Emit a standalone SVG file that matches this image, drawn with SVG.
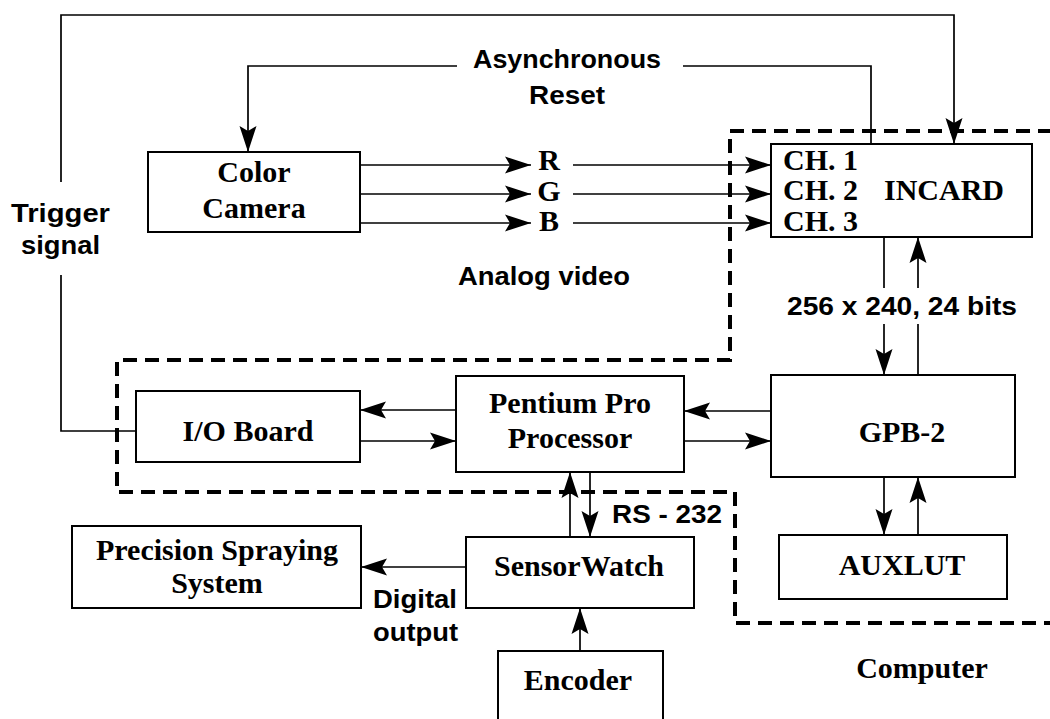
<svg xmlns="http://www.w3.org/2000/svg" width="1050" height="719" viewBox="0 0 1050 719">
  <style>
    .box { fill: #fff; stroke: #000; stroke-width: 2; }
    .wire { fill: none; stroke: #000; stroke-width: 1.7; }
    .arrow { marker-end: url(#ah); }
    .outline { fill: none; stroke: #000; stroke-width: 4; stroke-dasharray: 14 8; }
    .lbl { font-family: "Liberation Serif", "Times New Roman", serif; font-weight: bold; font-size: 30px; fill: #000; }
    .mid { text-anchor: middle; }
    .note { font-family: "Liberation Sans", Arial, Helvetica, sans-serif; font-weight: bold; font-size: 25px; fill: #000; }
  </style>
  <defs>
    <marker id="ah" viewBox="-27 -10 28 20" markerWidth="28" markerHeight="20" refX="0" refY="0" orient="auto" markerUnits="userSpaceOnUse">
      <path d="M0,0 L-26,-8.5 L-21,0 L-26,8.5 Z" fill="#000"/>
    </marker>
  </defs>
  <rect width="1050" height="719" fill="#fff"/>

  <!-- computer enclosure -->
  <path class="outline" d="M1052,131 H730 V360 H117 V492 H735 V623 H1052"/>

  <!-- connectors -->
  <g id="connectors">
    <!-- trigger signal loop -->
    <path class="wire" d="M136,431 H61 V275"/>
    <path class="wire arrow" d="M61,182 V15 H954 V144"/>
    <!-- asynchronous reset -->
    <path class="wire" d="M871,144 V66 H683"/>
    <path class="wire arrow" d="M457,66 H248 V152"/>
    <!-- analog video R G B -->
    <path class="wire arrow" d="M360,165 H531"/>
    <path class="wire arrow" d="M573,165 H771"/>
    <path class="wire arrow" d="M360,194 H531"/>
    <path class="wire arrow" d="M573,194 H771"/>
    <path class="wire arrow" d="M360,223 H531"/>
    <path class="wire arrow" d="M573,223 H771"/>
    <!-- INCARD <-> GPB-2 -->
    <path class="wire" d="M884,237 V288"/>
    <path class="wire arrow" d="M884,324 V375"/>
    <path class="wire" d="M918,375 V324"/>
    <path class="wire arrow" d="M918,288 V237"/>
    <!-- GPB-2 <-> Pentium Pro -->
    <path class="wire arrow" d="M771,411 H684"/>
    <path class="wire arrow" d="M684,441 H771"/>
    <!-- Pentium Pro <-> I/O Board -->
    <path class="wire arrow" d="M456,410 H360"/>
    <path class="wire arrow" d="M360,441 H456"/>
    <!-- Pentium Pro <-> SensorWatch (RS-232) -->
    <path class="wire arrow" d="M570,537 V472"/>
    <path class="wire arrow" d="M590,472 V537"/>
    <!-- SensorWatch -> spraying system -->
    <path class="wire arrow" d="M466,567 H361"/>
    <!-- Encoder -> SensorWatch -->
    <path class="wire arrow" d="M580,651 V608"/>
    <!-- GPB-2 <-> AUXLUT -->
    <path class="wire arrow" d="M884,477 V535"/>
    <path class="wire arrow" d="M918,535 V477"/>
  </g>

  <!-- nodes -->
  <g id="camera">
    <rect class="box" x="148" y="152" width="212" height="80"/>
    <text class="lbl mid" x="254" y="182">Color</text>
    <text class="lbl mid" x="254" y="218">Camera</text>
  </g>
  <g id="incard">
    <rect class="box" x="771" y="144" width="261" height="93"/>
    <text class="lbl" x="783" y="170">CH. 1</text>
    <text class="lbl" x="783" y="200">CH. 2</text>
    <text class="lbl" x="783" y="231">CH. 3</text>
    <text class="lbl" x="884" y="200">INCARD</text>
  </g>
  <g id="io-board">
    <rect class="box" x="136" y="391" width="224" height="71"/>
    <text class="lbl mid" x="248" y="441">I/O Board</text>
  </g>
  <g id="pentium">
    <rect class="box" x="456" y="376" width="228" height="96"/>
    <text class="lbl mid" x="570" y="413">Pentium Pro</text>
    <text class="lbl mid" x="570" y="448">Processor</text>
  </g>
  <g id="gpb2">
    <rect class="box" x="771" y="375" width="244" height="102"/>
    <text class="lbl mid" x="902" y="442">GPB-2</text>
  </g>
  <g id="auxlut">
    <rect class="box" x="779" y="535" width="228" height="64"/>
    <text class="lbl mid" x="902" y="575">AUXLUT</text>
  </g>
  <g id="sensorwatch">
    <rect class="box" x="466" y="537" width="228" height="71"/>
    <text class="lbl mid" x="579" y="576">SensorWatch</text>
  </g>
  <g id="spraying">
    <rect class="box" x="72" y="526" width="289" height="82"/>
    <text class="lbl mid" x="217" y="560">Precision Spraying</text>
    <text class="lbl mid" x="217" y="593">System</text>
  </g>
  <g id="encoder">
    <rect class="box" x="498" y="651" width="165" height="80"/>
    <text class="lbl mid" x="578" y="690">Encoder</text>
  </g>

  <!-- labels -->
  <g id="labels">
    <text class="note" x="473" y="68" textLength="188" lengthAdjust="spacingAndGlyphs">Asynchronous</text>
    <text class="note" x="529" y="104" textLength="76" lengthAdjust="spacingAndGlyphs">Reset</text>
    <text class="note" x="11" y="222" textLength="99" lengthAdjust="spacingAndGlyphs">Trigger</text>
    <text class="note" x="21" y="254" textLength="79" lengthAdjust="spacingAndGlyphs">signal</text>
    <text class="lbl mid" x="549" y="170">R</text>
    <text class="lbl mid" x="549" y="201">G</text>
    <text class="lbl mid" x="549" y="231">B</text>
    <text class="note" x="458" y="285" textLength="172" lengthAdjust="spacingAndGlyphs">Analog video</text>
    <text class="note" x="787" y="315" textLength="230" lengthAdjust="spacingAndGlyphs">256 x 240, 24 bits</text>
    <text class="note" x="612" y="523" textLength="110" lengthAdjust="spacingAndGlyphs">RS - 232</text>
    <text class="note" x="373" y="608" textLength="84" lengthAdjust="spacingAndGlyphs">Digital</text>
    <text class="note" x="373" y="641" textLength="85" lengthAdjust="spacingAndGlyphs">output</text>
    <text class="lbl mid" x="922" y="678">Computer</text>
  </g>
</svg>
